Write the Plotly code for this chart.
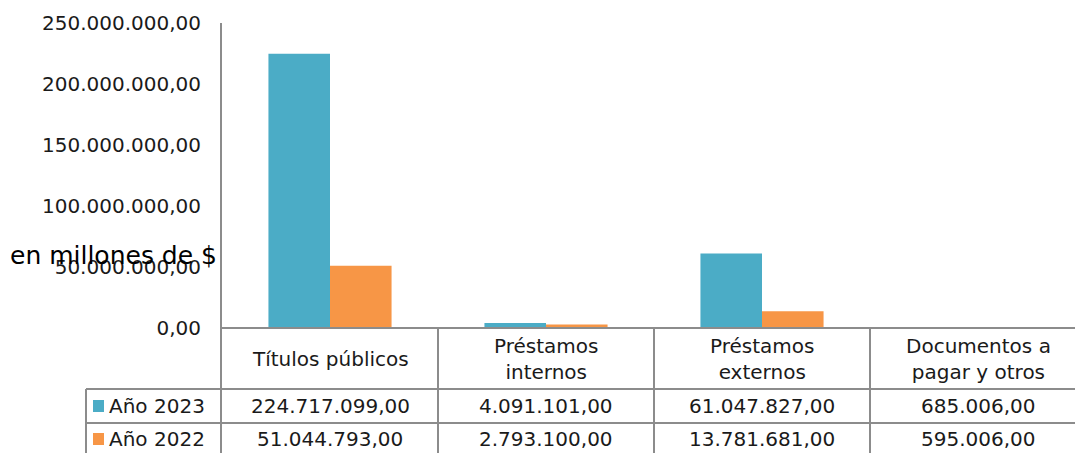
import plotly.graph_objects as go

categories = ["Títulos públicos", "Préstamos<br>internos", "Préstamos<br>externos", "Documentos a<br>pagar y otros"]
series_names = ["Año 2023", "Año 2022"]
values_2023 = [224717099.00, 4091101.00, 61047827.00, 685006.00]
values_2022 = [51044793.00, 2793100.00, 13781681.00, 595006.00]
colors = ["#4BACC6", "#F79646"]
y_ticks = [0, 50000000, 100000000, 150000000, 200000000, 250000000]
y_title = "en millones de $"


def fmt(v):
    s = f"{v:,.2f}"
    return s.replace(",", "X").replace(".", ",").replace("X", ".")


FONT = "DejaVu Sans"
TXT = "#1a1a1a"
GRID = "#8c8c8c"
FS = 20

W, H = 1075, 453
L, T, B = 222, 23, 125
plot_w = W - L
plot_h = H - T - B
col_px = 216
x0_px = 330  # center of first category

xr = [-(x0_px - L) / col_px, (W - x0_px) / col_px]

fig = go.Figure()
xs = list(range(len(categories)))
for name, vals, c in zip(series_names, [values_2023, values_2022], colors):
    fig.add_trace(go.Bar(x=xs, y=vals, name=name, marker=dict(color=c, line=dict(width=0)),
                         showlegend=False, hoverinfo="skip"))


def py(p):
    return (H - B - p) / plot_h


def px_x(p):
    return (p - L) / plot_w


shapes = []
line = dict(color=GRID, width=2)
for yp in [389, 423]:
    shapes.append(dict(type="line", xref="paper", yref="paper", x0=px_x(86), x1=1.02,
                       y0=py(yp), y1=py(yp), line=line))
shapes.append(dict(type="line", xref="paper", yref="paper", x0=0, x1=1.02,
                   y0=0, y1=0, line=line))
for i in range(len(categories) - 1):
    shapes.append(dict(type="line", xref="x", yref="paper", x0=i + 0.5, x1=i + 0.5,
                       y0=0, y1=py(460), line=line))
shapes.append(dict(type="line", xref="paper", yref="paper", x0=px_x(86), x1=px_x(86),
                   y0=py(389), y1=py(460), line=line))
shapes.append(dict(type="line", xref="paper", yref="paper", x0=px_x(221), x1=px_x(221),
                   y0=1, y1=py(460), line=line))

annotations = []
for i, cat in enumerate(categories):
    annotations.append(dict(x=i, y=py(359), xref="x", yref="paper", text=cat, showarrow=False,
                            font=dict(family=FONT, size=FS, color=TXT), xanchor="center",
                            yanchor="middle", align="center"))
row_y = [406, 439]
for r, vals in enumerate([values_2023, values_2022]):
    for i, v in enumerate(vals):
        annotations.append(dict(x=i, y=py(row_y[r]), xref="x", yref="paper", text=fmt(v),
                                showarrow=False, font=dict(family=FONT, size=FS, color=TXT),
                                xanchor="center", yanchor="middle"))
    shapes.append(dict(type="rect", xref="paper", yref="paper", x0=px_x(93), x1=px_x(104),
                       y0=py(row_y[r] - 6), y1=py(row_y[r] + 6), fillcolor=colors[r],
                       line=dict(width=0)))
    annotations.append(dict(x=px_x(107), y=py(row_y[r]), xref="paper", yref="paper",
                            text=series_names[r], showarrow=False,
                            font=dict(family=FONT, size=FS, color=TXT),
                            xanchor="left", yanchor="middle"))

annotations.append(dict(x=px_x(8), y=py(255), xref="paper", yref="paper", text=y_title,
                        showarrow=False, font=dict(family=FONT, size=25, color="#000000"),
                        xanchor="left", yanchor="middle"))

fig.update_layout(
    width=W, height=H,
    margin=dict(l=L, r=0, t=T, b=B),
    paper_bgcolor="white", plot_bgcolor="white",
    barmode="group", bargap=0.43, bargroupgap=0,
    xaxis=dict(range=xr, showticklabels=False, showgrid=False, zeroline=False,
               showline=False, ticks=""),
    yaxis=dict(range=[0, 250000000], tickvals=y_ticks, ticktext=[fmt(v) for v in y_ticks],
               showgrid=False, zeroline=False, showline=False, ticks="",
               ticklabelstandoff=20,
               tickfont=dict(family=FONT, size=FS, color=TXT)),
    shapes=shapes,
    annotations=annotations,
)

fig.write_html("out.html", config={"displayModeBar": False},
               post_script="document.body.style.margin='0';document.body.style.overflow='hidden';")
